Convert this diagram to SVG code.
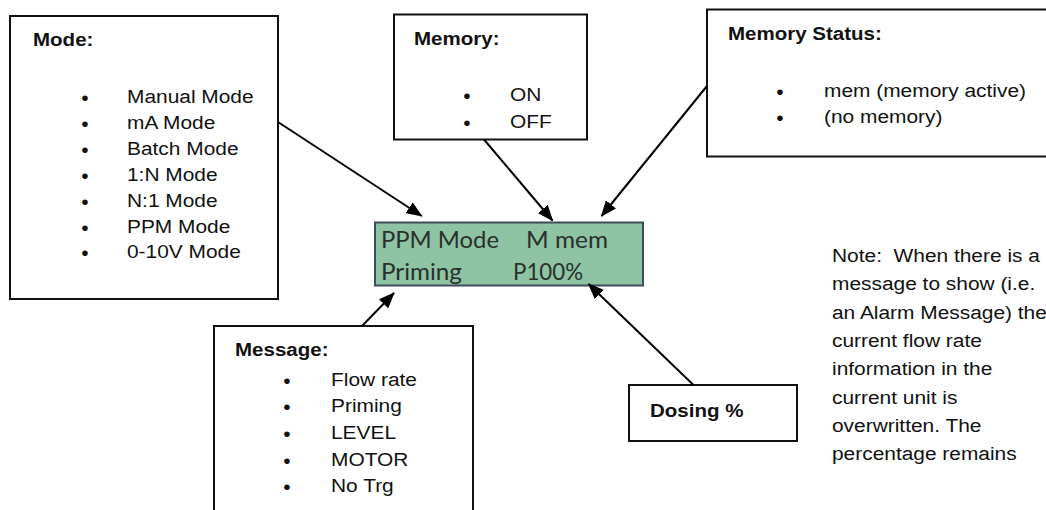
<svg xmlns="http://www.w3.org/2000/svg" width="1046" height="510" viewBox="0 0 1046 510">
<style>
.box{fill:#fff;stroke:#111;stroke-width:2}
.t{font-family:"Liberation Sans",Arial,sans-serif;font-size:19px;fill:#111}
.b{font-weight:bold}
.bu{font-family:"Liberation Sans",Arial,sans-serif;font-size:21px;fill:#111;text-anchor:middle}
.lcd{font-family:Lato,"Open Sans",sans-serif;font-size:23px;fill:#2a2f2c}
.conn line{stroke:#000;stroke-width:2;marker-end:url(#ah)}
</style>
<defs>
<marker id="ah" viewBox="0 0 16 13" markerUnits="userSpaceOnUse" markerWidth="16" markerHeight="13" refX="15" refY="6.5" orient="auto">
<path d="M0,0 L16,6.5 L0,13 z" fill="#000"/>
</marker>
</defs>
<rect width="1046" height="510" fill="#fff"/>

<g id="mode">
<rect class="box" x="10" y="16" width="268" height="283"/>
<text class="t b" transform="translate(33 46) scale(1.08 1)">Mode:</text>
<g class="bu">
<text x="85" y="104.5">•</text><text x="85" y="130.5">•</text><text x="85" y="156.5">•</text><text x="85" y="182.5">•</text><text x="85" y="208.5">•</text><text x="85" y="234.5">•</text><text x="85" y="259.5">•</text>
</g>
<text class="t" transform="translate(127 103) scale(1.1 1)">Manual Mode</text>
<text class="t" transform="translate(127 129) scale(1.1 1)">mA Mode</text>
<text class="t" transform="translate(127 155) scale(1.1 1)">Batch Mode</text>
<text class="t" transform="translate(127 181) scale(1.1 1)">1:N Mode</text>
<text class="t" transform="translate(127 207) scale(1.1 1)">N:1 Mode</text>
<text class="t" transform="translate(127 233) scale(1.1 1)">PPM Mode</text>
<text class="t" transform="translate(127 258) scale(1.1 1)">0-10V Mode</text>
</g>

<g id="memory">
<rect class="box" x="394" y="14.5" width="193" height="125"/>
<text class="t b" transform="translate(414 45) scale(1.08 1)">Memory:</text>
<text class="bu" x="467" y="102.5">•</text>
<text class="bu" x="467" y="129.5">•</text>
<text class="t" transform="translate(510 101) scale(1.1 1)">ON</text>
<text class="t" transform="translate(510 128) scale(1.1 1)">OFF</text>
</g>

<g id="memory-status">
<rect class="box" x="707" y="9.5" width="345" height="147"/>
<text class="t b" transform="translate(728 40) scale(1.08 1)">Memory Status:</text>
<text class="bu" x="780" y="98.5">•</text>
<text class="bu" x="780" y="124.5">•</text>
<text class="t" transform="translate(824 97) scale(1.1 1)">mem (memory active)</text>
<text class="t" transform="translate(824 123) scale(1.1 1)">(no memory)</text>
</g>

<g id="lcd">
<rect x="375" y="222.5" width="268" height="63" fill="#8ec3a4" stroke="#3e4d5c" stroke-width="2"/>
<text class="lcd" x="381" y="248" textLength="118" lengthAdjust="spacingAndGlyphs">PPM Mode</text>
<text class="lcd" x="526" y="248" textLength="82" lengthAdjust="spacingAndGlyphs">M mem</text>
<text class="lcd" x="381" y="280" textLength="81" lengthAdjust="spacingAndGlyphs">Priming</text>
<text class="lcd" x="513" y="280" textLength="70" lengthAdjust="spacingAndGlyphs">P100%</text>
</g>

<g id="message">
<rect class="box" x="214" y="326" width="259" height="200"/>
<text class="t b" transform="translate(235 356) scale(1.08 1)">Message:</text>
<g class="bu">
<text x="287" y="387.5">•</text><text x="287" y="413.5">•</text><text x="287" y="440.5">•</text><text x="287" y="467.5">•</text><text x="287" y="493.5">•</text>
</g>
<text class="t" transform="translate(331 386) scale(1.1 1)">Flow rate</text>
<text class="t" transform="translate(331 412) scale(1.1 1)">Priming</text>
<text class="t" transform="translate(331 439) scale(1.1 1)">LEVEL</text>
<text class="t" transform="translate(331 466) scale(1.1 1)">MOTOR</text>
<text class="t" transform="translate(331 492) scale(1.1 1)">No Trg</text>
</g>

<g id="dosing">
<rect class="box" x="629" y="385" width="168" height="56"/>
<text class="t b" transform="translate(650 417) scale(1.08 1)">Dosing %</text>
</g>

<g id="note" class="t">
<text xml:space="preserve" transform="translate(832 262) scale(1.1 1)">Note:  When there is a</text>
<text transform="translate(832 290) scale(1.1 1)">message to show (i.e.</text>
<text transform="translate(832 318.5) scale(1.1 1)">an Alarm Message) the</text>
<text transform="translate(832 347) scale(1.1 1)">current flow rate</text>
<text transform="translate(832 375) scale(1.1 1)">information in the</text>
<text transform="translate(832 403.5) scale(1.1 1)">current unit is</text>
<text transform="translate(832 432) scale(1.1 1)">overwritten. The</text>
<text transform="translate(832 460) scale(1.1 1)">percentage remains</text>
</g>

<g id="connectors" class="conn">
<line x1="278" y1="122" x2="421.7" y2="216"/>
<line x1="484" y1="139.5" x2="552.5" y2="220.5"/>
<line x1="707" y1="86" x2="601.5" y2="216"/>
<line x1="362" y1="326" x2="394" y2="293"/>
<line x1="693.5" y1="385" x2="588.5" y2="284"/>
</g>
</svg>
